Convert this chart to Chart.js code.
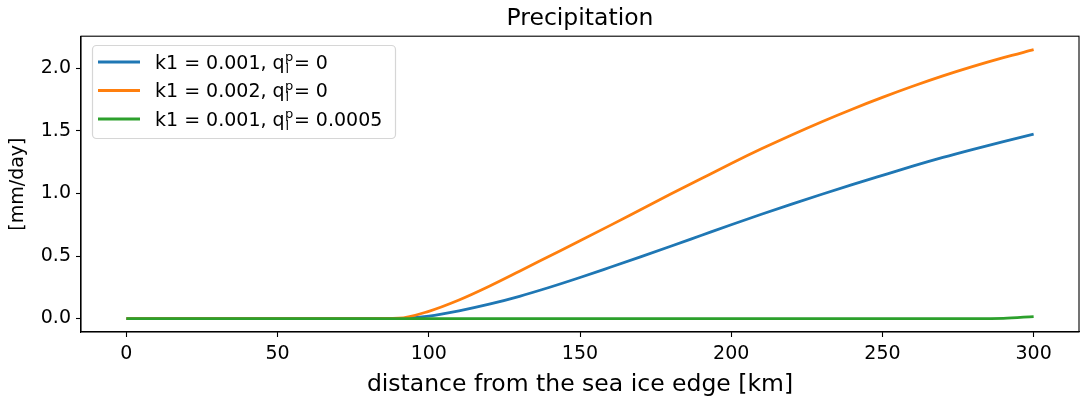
<!DOCTYPE html>
<html>
<head>
<meta charset="utf-8">
<script src="https://cdn.jsdelivr.net/npm/chart.js@4/dist/chart.umd.min.js"></script>
<style>
  html, body { margin: 0; padding: 0; background: #fff; }
  canvas { display: block; }
</style>
</head>
<body>
<canvas id="precip" width="1084" height="397"></canvas>
<script>
const ctx = document.getElementById('precip').getContext('2d')

const FONT = 'DejaVu Sans'

// distance from the sea ice edge [km]
const distance = [0, 10, 20, 30, 40, 50, 60, 70, 80, 90, 100, 110, 120, 130, 140, 150,
    160, 170, 180, 190, 200, 210, 220, 230, 240, 250, 260, 270, 280, 290, 300]

// precipitation [mm/day]
const runK1 = [0, 0, 0, 0, 0, 0, 0, 0, 0, 0.0, 0.02, 0.062, 0.115, 0.178, 0.25, 0.328,
    0.41, 0.493, 0.578, 0.664, 0.75, 0.834, 0.915, 0.994, 1.071, 1.145, 1.218, 1.288, 1.353, 1.415, 1.475]
const runK2 = [0, 0, 0, 0, 0, 0, 0, 0, 0, 0.003, 0.058, 0.148, 0.258, 0.378, 0.5, 0.622,
    0.745, 0.87, 0.995, 1.118, 1.24, 1.357, 1.468, 1.574, 1.674, 1.768, 1.857, 1.94, 2.016, 2.086, 2.15]
const runQl = [0, 0, 0, 0, 0, 0, 0, 0, 0, 0, 0, 0, 0, 0, 0, 0,
    0, 0, 0, 0, 0, 0, 0, 0, 0, 0, 0, 0, 0, 0.002, 0.016]

const labels = [
    { k1: '0.001', ql: '0' },
    { k1: '0.002', ql: '0' },
    { k1: '0.001', ql: '0.0005' }
]
const colors = ['#1f77b4', '#ff7f0e', '#2ca02c']

const xTicks = [0, 50, 100, 150, 200, 250, 300]
const yTicks = [0, 0.5, 1.0, 1.5, 2.0]

const toPoints = ys => distance.map((d, i) => ({ x: d, y: ys[i] }))

// box round the axes, like matplotlib spines
const frame = {
    id: 'frame',
    afterDatasetsDraw(chart) {
        const a = chart.chartArea
        const c = chart.ctx
        c.save()
        c.strokeStyle = '#000'
        c.lineWidth = 1.1
        c.strokeRect(a.left, a.top, a.right - a.left, a.bottom - a.top)
        c.restore()
    }
}

// legend with q_l^p drawn as real sub/superscript
const mathLegend = {
    id: 'mathLegend',
    afterDraw(chart) {
        const c = chart.ctx
        const bx = 92, by = 45, bw = 303, bh = 93, r = 4
        c.save()
        c.beginPath()
        c.roundRect(bx + 0.5, by + 0.5, bw, bh, r)
        c.fillStyle = 'rgba(255,255,255,0.8)'
        c.fill()
        c.strokeStyle = '#d6d6d6'
        c.lineWidth = 1.2
        c.stroke()

        const rows = [62, 90.5, 119]
        labels.forEach((lab, i) => {
            const y = rows[i]
            c.strokeStyle = colors[i]
            c.lineWidth = 2.8
            c.beginPath()
            c.moveTo(98, y)
            c.lineTo(140, y)
            c.stroke()

            c.fillStyle = '#000'
            c.textBaseline = 'alphabetic'
            c.font = '19px ' + FONT
            const base = y + 6.5
            let x = 155
            const head = 'k1 = ' + lab.k1 + ', q'
            c.fillText(head, x, base)
            x += c.measureText(head).width + 0.5
            c.font = '13px ' + FONT
            c.fillText('p', x, base - 7.5)
            c.fillText('l', x + 0.5, base + 4)
            x += c.measureText('p').width + 0.5
            c.font = '19px ' + FONT
            c.fillText('= ' + lab.ql, x, base)
        })
        c.restore()
    }
}

new Chart(ctx, {
    type: 'line',
    data: {
        datasets: [
            { data: toPoints(runK1), borderColor: colors[0], order: 3 },
            { data: toPoints(runK2), borderColor: colors[1], order: 2 },
            { data: toPoints(runQl), borderColor: colors[2], order: 1 }
        ]
    },
    options: {
        responsive: false,
        animation: false,
        devicePixelRatio: 1,
        layout: { padding: { top: 0, right: 5, left: 0, bottom: 0 } },
        elements: {
            point: { radius: 0 },
            line: { borderWidth: 2.8, cubicInterpolationMode: 'monotone', fill: false }
        },
        plugins: {
            legend: { display: false },
            tooltip: { enabled: false },
            title: {
                display: true,
                text: 'Precipitation',
                color: '#000',
                font: { family: FONT, size: 23.5, weight: 'normal' },
                padding: { top: 5, bottom: 3 },
                fullSize: false
            }
        },
        scales: {
            x: {
                type: 'linear',
                min: -15,
                max: 315,
                afterBuildTicks: s => { s.ticks = xTicks.map(v => ({ value: v })) },
                afterFit: s => { s.height = 65 },
                grid: { drawOnChartArea: false, tickLength: 5, tickColor: '#000', tickWidth: 1.1 },
                border: { color: '#000', width: 1.1 },
                ticks: {
                    color: '#000',
                    padding: 6,
                    maxRotation: 0,
                    font: { family: FONT, size: 19 },
                    callback: v => String(v)
                },
                title: {
                    display: true,
                    text: 'distance from the sea ice edge [km]',
                    color: '#000',
                    font: { family: FONT, size: 23.5, lineHeight: 1 },
                    padding: { top: 0, bottom: 0 }
                }
            },
            y: {
                min: -0.1075,
                max: 2.2575,
                afterBuildTicks: s => { s.ticks = yTicks.map(v => ({ value: v })) },
                afterFit: s => { s.width = 81 },
                grid: { drawOnChartArea: false, tickLength: 5, tickColor: '#000', tickWidth: 1.1 },
                border: { color: '#000', width: 1.1 },
                ticks: {
                    color: '#000',
                    padding: 5,
                    font: { family: FONT, size: 19 },
                    callback: v => v.toFixed(1)
                },
                title: {
                    display: true,
                    text: '[mm/day]',
                    color: '#000',
                    font: { family: FONT, size: 19, lineHeight: 1 },
                    padding: { top: 9, bottom: 0 }
                }
            }
        }
    },
    plugins: [frame, mathLegend]
})
</script>
</body>
</html>
